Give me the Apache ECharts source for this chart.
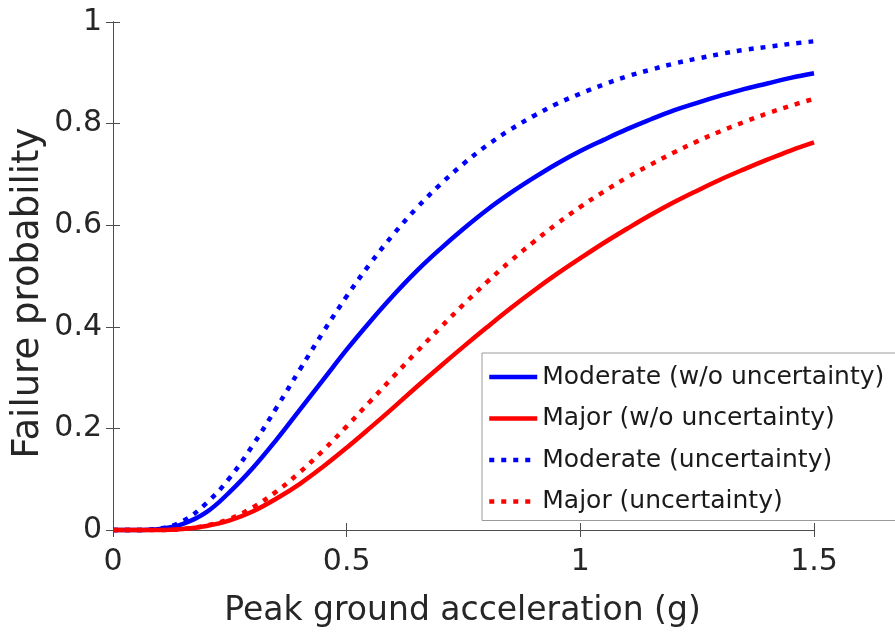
<!DOCTYPE html>
<html>
<head>
<meta charset="utf-8">
<script src="https://cdn.jsdelivr.net/npm/echarts@6/dist/echarts.min.js"></script>
<style>
html,body{margin:0;padding:0;background:#fff;}
#chart{width:895px;height:637px;}
</style>
</head>
<body>
<div id="chart"></div>
<script>
// Peak ground acceleration (g)
var pga = [0,0.05,0.1,0.15,0.2,0.25,0.3,0.35,0.4,0.45,0.5,0.55,0.6,0.65,0.7,0.75,0.8,0.85,0.9,0.95,1.0,1.05,1.1,1.15,1.2,1.25,1.3,1.35,1.4,1.45,1.5];
// Failure probability
var moderateNoUnc = [0,0,0.002,0.012,0.035,0.075,0.123,0.178,0.237,0.296,0.355,0.41,0.462,0.51,0.553,0.593,0.63,0.663,0.693,0.721,0.746,0.768,0.789,0.808,0.826,0.841,0.855,0.868,0.879,0.89,0.899];
var majorNoUnc = [0,0,0,0.002,0.008,0.019,0.037,0.062,0.091,0.125,0.162,0.201,0.241,0.282,0.322,0.361,0.399,0.436,0.471,0.504,0.535,0.565,0.593,0.62,0.645,0.668,0.69,0.71,0.729,0.747,0.763];
var moderateUnc = [0,0,0.003,0.018,0.053,0.103,0.168,0.241,0.316,0.39,0.46,0.524,0.582,0.634,0.68,0.721,0.757,0.788,0.815,0.839,0.859,0.877,0.893,0.906,0.918,0.928,0.937,0.945,0.951,0.957,0.962];
var majorUnc = [0,0,0,0.002,0.009,0.022,0.045,0.076,0.114,0.157,0.204,0.253,0.302,0.351,0.398,0.444,0.488,0.529,0.567,0.603,0.636,0.666,0.694,0.719,0.743,0.765,0.785,0.803,0.82,0.835,0.849];
var seriesNames = ['Moderate (w/o uncertainty)','Major (w/o uncertainty)','Moderate (uncertainty)','Major (uncertainty)'];
var xTitle = 'Peak ground acceleration (g)';
var yTitle = 'Failure probability';

function pairs(ys){ return pga.map(function(x,i){ return [x, ys[i]]; }); }

var FONT = 'DejaVu Sans';
var TXT = '#262626';
var AX = '#4d4d4d';
var dotted = [5, 7];

function mkSeries(name, ys, color, dash){
  return {
    name: name, type: 'line', data: pairs(ys),
    smooth: 0.4,
    symbol: 'none', showSymbol: false, clip: false,
    lineStyle: {color: color, width: 4.5, type: dash || 'solid', cap: 'butt'},
    itemStyle: {color: color}
  };
}

var axisCommon = {
  axisLine: {show: true, lineStyle: {color: AX, width: 1}},
  axisTick: {show: true, inside: true, length: 7, lineStyle: {color: AX, width: 1}},
  splitLine: {show: false}
};

var chart = echarts.init(document.getElementById('chart'), null, {renderer: 'canvas'});
chart.setOption({
  animation: false,
  backgroundColor: '#fff',
  grid: {left: 113, right: 81, top: 22, bottom: 107},
  xAxis: [
    Object.assign({type: 'value', min: 0, max: 1.5, interval: 0.5, position: 'bottom',
      axisLabel: {fontSize: 30, fontFamily: FONT, color: TXT, margin: 17}}, axisCommon),
    Object.assign({type: 'value', min: 0, max: 1.5, interval: 0.5, position: 'top',
      axisLabel: {show: false}}, axisCommon)
  ],
  yAxis: [
    Object.assign({type: 'value', min: 0, max: 1, interval: 0.2, position: 'left',
      axisLabel: {fontSize: 30, fontFamily: FONT, color: TXT, margin: 11}}, axisCommon),
    Object.assign({type: 'value', min: 0, max: 1, interval: 0.2, position: 'right',
      axisLabel: {show: false}}, axisCommon)
  ],
  legend: {
    orient: 'vertical', left: 482, top: 353,
    padding: [10, 12, 5, 5],
    itemWidth: 48, itemHeight: 14, itemGap: 13.5,
    backgroundColor: '#fff', borderColor: '#9a9a9a', borderWidth: 1,
    itemStyle: {opacity: 0, borderWidth: 0},
    lineStyle: {width: 4.5, cap: 'butt'},
    textStyle: {fontSize: 25, fontFamily: FONT, color: '#1a1a1a', lineHeight: 28},
    data: seriesNames
  },
  graphic: [
    {type: 'text', x: 462.5, y: 611, z: 10,
      style: {text: xTitle, font: '33px "DejaVu Sans"', fill: TXT, align: 'center', verticalAlign: 'middle'}},
    {type: 'text', x: 28, y: 293, rotation: Math.PI / 2, z: 10,
      style: {text: yTitle, font: '37px "DejaVu Sans"', fill: TXT, align: 'center', verticalAlign: 'middle'}}
  ],
  series: [
    mkSeries(seriesNames[0], moderateNoUnc, '#0000ff'),
    mkSeries(seriesNames[1], majorNoUnc, '#ff0000'),
    mkSeries(seriesNames[2], moderateUnc, '#0000ff', dotted),
    mkSeries(seriesNames[3], majorUnc, '#ff0000', dotted)
  ]
});
</script>
</body>
</html>
